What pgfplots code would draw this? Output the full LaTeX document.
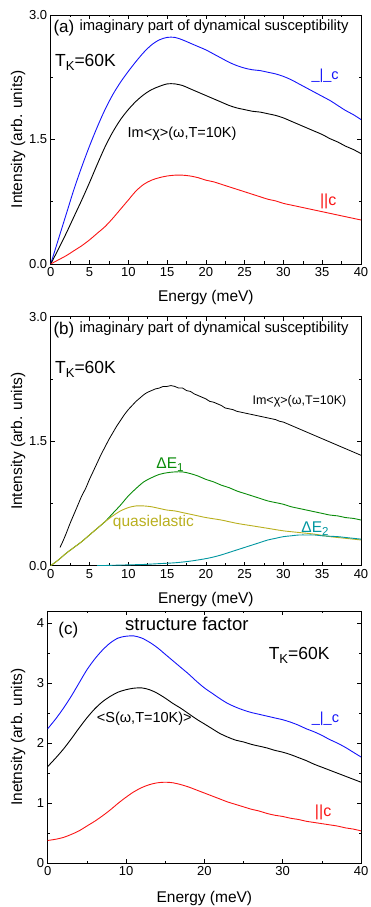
\documentclass[border=0pt]{standalone}
\usepackage{fontspec}
\setmainfont{Liberation Sans}
\usepackage{pgfplots}
\pgfplotsset{compat=1.18}
\definecolor{cblue}{RGB}{20,20,250}
\definecolor{cred}{RGB}{250,20,20}
\definecolor{cgreen}{RGB}{10,140,10}
\definecolor{colive}{RGB}{185,175,30}
\definecolor{ccyan}{RGB}{0,150,160}
\newcommand{\fs}[1]{\fontsize{#1}{#1}\selectfont}
\newcommand{\TK}{T\raisebox{-0.22em}{\fs{13}K}=60K}
\pgfplotsset{
  base/.style={
    scale only axis, xmin=0, xmax=40,
    axis line style={line width=0.8pt, black},
    tick align=inside, major tick length=4pt, minor tick length=2.5pt,
    every tick/.style={black, line width=0.6pt},
    minor x tick num=1, minor y tick num=1,
    /pgf/number format/assume math mode=true,
    tick label style={font=\fs{13}},
    xlabel={Energy (meV)},
    every axis y label/.style={rotate=90, anchor=center, font=\fs{15.5}},
    every axis x label/.style={anchor=center, font=\fs{15.5}},
  },
  ab/.style={base, width=310.3pt, height=249pt, ymin=0, ymax=3,
    xtick={0,5,...,40}, ytick={0,1.5,3},
    yticklabel style={/pgf/number format/fixed, /pgf/number format/fixed zerofill, /pgf/number format/precision=1},
    ylabel={Intensity (arb. units)},
    ylabel style={at={(axis description cs:-0.1054,0.5)}},
    xlabel style={at={(axis description cs:0.5,-0.135)}},
  },
  ln/.style={line width=0.9pt, smooth},
}
\begin{document}
\begin{tikzpicture}
\useasboundingbox (0,0) rectangle (370pt,907pt);
% ---------------- panel (a)
\begin{axis}[ab, at={(50.7pt,643pt)}, anchor=south west]
\addplot[ln, cblue] coordinates {(0,0) (1,0.30) (2,0.60) (3,0.90) (4,1.17) (5,1.42) (6,1.65) (7,1.86) (8,2.04) (9,2.19) (10,2.32) (11,2.44) (12,2.55) (13,2.64) (14,2.70) (15,2.73) (16,2.73) (17,2.70) (18,2.66) (19,2.62) (20,2.58) (21,2.53) (22,2.48) (23,2.43) (24,2.39) (25,2.36) (26,2.34) (27,2.33) (28,2.31) (29,2.29) (30,2.26) (31,2.22) (32,2.17) (33,2.12) (34,2.07) (35,2.02) (36,1.97) (37,1.91) (38,1.85) (39,1.80) (40,1.74)};
\addplot[ln, black] coordinates {(0,0) (1,0.18) (2,0.37) (3,0.57) (4,0.77) (5,0.98) (6,1.20) (7,1.41) (8,1.59) (9,1.74) (10,1.86) (11,1.96) (12,2.04) (13,2.10) (14,2.14) (15,2.17) (16,2.17) (17,2.15) (18,2.11) (19,2.07) (20,2.03) (21,1.99) (22,1.95) (23,1.91) (24,1.88) (25,1.86) (26,1.84) (27,1.83) (28,1.81) (29,1.79) (30,1.76) (31,1.72) (32,1.68) (33,1.64) (34,1.60) (35,1.56) (36,1.51) (37,1.47) (38,1.42) (39,1.38) (40,1.33)};
\addplot[ln, cred] coordinates {(0,0) (1,0.05) (2,0.10) (3,0.16) (4,0.22) (5,0.29) (6,0.37) (7,0.45) (8,0.55) (9,0.66) (10,0.77) (11,0.88) (12,0.96) (13,1.01) (14,1.04) (15,1.06) (16,1.07) (17,1.07) (18,1.06) (19,1.04) (20,1.01) (21,0.99) (22,0.96) (23,0.93) (24,0.90) (25,0.87) (26,0.84) (27,0.81) (28,0.78) (29,0.76) (30,0.73) (31,0.71) (32,0.69) (33,0.67) (34,0.65) (35,0.63) (36,0.61) (37,0.59) (38,0.57) (39,0.55) (40,0.53)};
\node[anchor=base west, font=\fs{17}, inner sep=0] at (axis cs:0.34,2.79) {(a)};
\node[anchor=base west, font=\fs{14.8}, inner sep=0] at (axis cs:3.69,2.81) {imaginary part of dynamical susceptibility};
\node[anchor=base west, font=\fs{17.5}, inner sep=0] at (axis cs:0.55,2.38) {\TK};
\node[anchor=base west, font=\fs{14.5}, inner sep=0, text=cblue] at (axis cs:33.6,2.22) {\_|\_c};
\node[anchor=base west, font=\fs{14.5}, inner sep=0] at (axis cs:9.9,1.52) {Im<χ>(ω,T=10K)};
\node[anchor=base west, font=\fs{16}, inner sep=0, text=cred] at (axis cs:34.7,0.70) {||c};
\end{axis}
% ---------------- panel (b)
\begin{axis}[ab, at={(50.7pt,341.3pt)}, anchor=south west]
\addplot[ln, black, line width=0.8pt] coordinates {(1.2,0.22) (1.6,0.30) (2,0.39) (2.5,0.51) (3,0.62) (3.5,0.73) (4,0.84) (4.5,0.93) (5,1.04) (5.5,1.14) (6,1.24) (6.5,1.34) (7,1.43) (7.5,1.52) (8,1.60) (8.5,1.68) (9,1.75) (9.5,1.82) (10,1.88) (10.5,1.93) (11,1.98) (11.5,2.02) (12,2.06) (12.5,2.09) (13,2.11) (13.5,2.13) (14,2.14) (14.5,2.16) (15,2.16) (15.5,2.17) (16,2.16) (16.5,2.14) (17,2.14) (17.5,2.11) (18,2.10) (18.5,2.07) (19,2.05) (19.5,2.03) (20,2.01) (20.5,1.98) (21,1.97) (21.5,1.95) (22,1.93) (22.5,1.90) (23,1.89) (23.5,1.88) (24,1.86) (24.5,1.85) (25,1.84) (25.5,1.83) (26,1.82) (26.5,1.81) (27,1.80) (27.5,1.79) (28,1.78) (28.5,1.77) (29,1.76) (29.5,1.74) (30,1.73) (30.5,1.71) (31,1.69) (31.5,1.67) (32,1.65) (32.5,1.63) (33,1.61) (33.5,1.59) (34,1.57) (34.5,1.55) (35,1.53) (35.5,1.51) (36,1.49) (36.5,1.47) (37,1.45) (37.5,1.43) (38,1.41) (38.5,1.39) (39,1.37) (39.5,1.35) (40,1.33)};
\addplot[ln, cgreen] coordinates {(0,0) (1,0.07) (2,0.15) (3,0.22) (4,0.29) (5,0.37) (6,0.45) (7,0.53) (8,0.63) (9,0.73) (10,0.84) (11,0.93) (12,1.01) (13,1.06) (14,1.10) (15,1.12) (16,1.13) (17,1.13) (18,1.11) (19,1.08) (20,1.04) (21,1.01) (22,0.97) (23,0.94) (24,0.90) (25,0.87) (26,0.84) (27,0.81) (28,0.78) (29,0.76) (30,0.74) (31,0.71) (32,0.69) (33,0.67) (34,0.65) (35,0.63) (36,0.61) (37,0.60) (38,0.58) (39,0.57) (40,0.55)};
\addplot[ln, colive] coordinates {(0,0) (1,0.07) (2,0.15) (3,0.22) (4,0.29) (5,0.37) (6,0.45) (7,0.53) (8,0.60) (9,0.66) (10,0.70) (11,0.72) (12,0.72) (13,0.71) (14,0.69) (15,0.67) (16,0.66) (17,0.64) (18,0.62) (19,0.60) (20,0.58) (22,0.55) (24,0.51) (26,0.48) (28,0.45) (30,0.42) (32,0.40) (34,0.38) (36,0.35) (38,0.33) (40,0.31)};
\addplot[ln, ccyan] coordinates {(6,0.00) (8,0.005) (10,0.01) (12,0.015) (14,0.025) (16,0.035) (18,0.055) (20,0.085) (21,0.105) (22,0.13) (23,0.16) (24,0.19) (25,0.22) (26,0.25) (27,0.28) (28,0.31) (29,0.33) (30,0.35) (31,0.36) (32,0.37) (33,0.37) (34,0.37) (35,0.36) (36,0.355) (37,0.35) (38,0.34) (39,0.33) (40,0.32)};
\node[anchor=base west, font=\fs{17}, inner sep=0] at (axis cs:0.34,2.79) {(b)};
\node[anchor=base west, font=\fs{14.8}, inner sep=0] at (axis cs:3.69,2.81) {imaginary part of dynamical susceptibility};
\node[anchor=base west, font=\fs{17.5}, inner sep=0] at (axis cs:0.55,2.31) {\TK};
\node[anchor=base west, font=\fs{12.5}, inner sep=0] at (axis cs:26.0,1.94) {Im<χ>(ω,T=10K)};
\node[anchor=base west, font=\fs{15.5}, inner sep=0, text=cgreen] at (axis cs:13.6,1.17) {ΔE\raisebox{-0.22em}{\fs{11.5}1}};
\node[anchor=base west, font=\fs{15.5}, inner sep=0, text=colive] at (axis cs:8.0,0.47) {quasielastic};
\node[anchor=base west, font=\fs{15.5}, inner sep=0, text=ccyan] at (axis cs:32.3,0.40) {ΔE\raisebox{-0.22em}{\fs{11.5}2}};
\end{axis}
% ---------------- panel (c)
\begin{axis}[base, at={(47.7pt,43.7pt)}, anchor=south west, width=313.3pt, height=252.3pt,
  ymin=0, ymax=4.2, xtick={0,10,...,40}, ytick={0,1,2,3,4},
  ylabel={Inetnsity (arb. units)},
  ylabel style={at={(axis description cs:-0.0948,0.5)}},
  xlabel style={at={(axis description cs:0.5,-0.139)}}]
\addplot[ln, cblue] coordinates {(0,2.24) (1,2.40) (2,2.58) (3,2.78) (4,3.00) (5,3.22) (6,3.40) (7,3.55) (8,3.67) (9,3.75) (10,3.78) (11,3.785) (12,3.75) (13,3.68) (14,3.59) (15,3.48) (16,3.37) (17,3.26) (18,3.15) (19,3.03) (20,2.92) (21,2.83) (22,2.74) (23,2.66) (24,2.60) (25,2.55) (26,2.51) (27,2.48) (28,2.45) (29,2.42) (30,2.39) (31,2.35) (32,2.30) (33,2.24) (34,2.19) (35,2.13) (36,2.06) (37,2.00) (38,1.93) (39,1.85) (40,1.77)};
\addplot[ln, black] coordinates {(0,1.61) (1,1.75) (2,1.90) (3,2.07) (4,2.25) (5,2.42) (6,2.57) (7,2.69) (8,2.78) (9,2.85) (10,2.89) (11,2.915) (12,2.92) (13,2.89) (14,2.83) (15,2.75) (16,2.66) (17,2.58) (18,2.49) (19,2.40) (20,2.32) (21,2.24) (22,2.16) (23,2.10) (24,2.05) (25,2.02) (26,1.98) (27,1.95) (28,1.92) (29,1.88) (30,1.85) (31,1.81) (32,1.76) (33,1.71) (34,1.65) (35,1.60) (36,1.55) (37,1.50) (38,1.45) (39,1.40) (40,1.35)};
\addplot[ln, cred] coordinates {(0,0.38) (1,0.40) (2,0.43) (3,0.48) (4,0.54) (5,0.62) (6,0.70) (7,0.79) (8,0.89) (9,1.00) (10,1.10) (11,1.19) (12,1.26) (13,1.31) (14,1.34) (15,1.35) (16,1.34) (17,1.31) (18,1.27) (19,1.22) (20,1.17) (21,1.12) (22,1.07) (23,1.02) (24,0.98) (25,0.94) (26,0.90) (27,0.87) (28,0.83) (29,0.80) (30,0.78) (31,0.75) (32,0.73) (33,0.70) (34,0.68) (35,0.66) (36,0.64) (37,0.62) (38,0.59) (39,0.57) (40,0.54)};
\node[anchor=center, font=\fs{17}, inner sep=0] at (axis cs:2.63,3.89) {(c)};
\node[anchor=base west, font=\fs{18.5}, inner sep=0] at (axis cs:9.87,3.88) {structure factor};
\node[anchor=base west, font=\fs{17.5}, inner sep=0] at (axis cs:28.2,3.39) {\TK};
\node[anchor=base west, font=\fs{14.5}, inner sep=0] at (axis cs:6.26,2.34) {<S(ω,T=10K)>};
\node[anchor=base west, font=\fs{14.5}, inner sep=0, text=cblue] at (axis cs:33.7,2.34) {\_|\_c};
\node[anchor=base west, font=\fs{16}, inner sep=0, text=cred] at (axis cs:34.1,0.78) {||c};
\end{axis}
\end{tikzpicture}
\end{document}
